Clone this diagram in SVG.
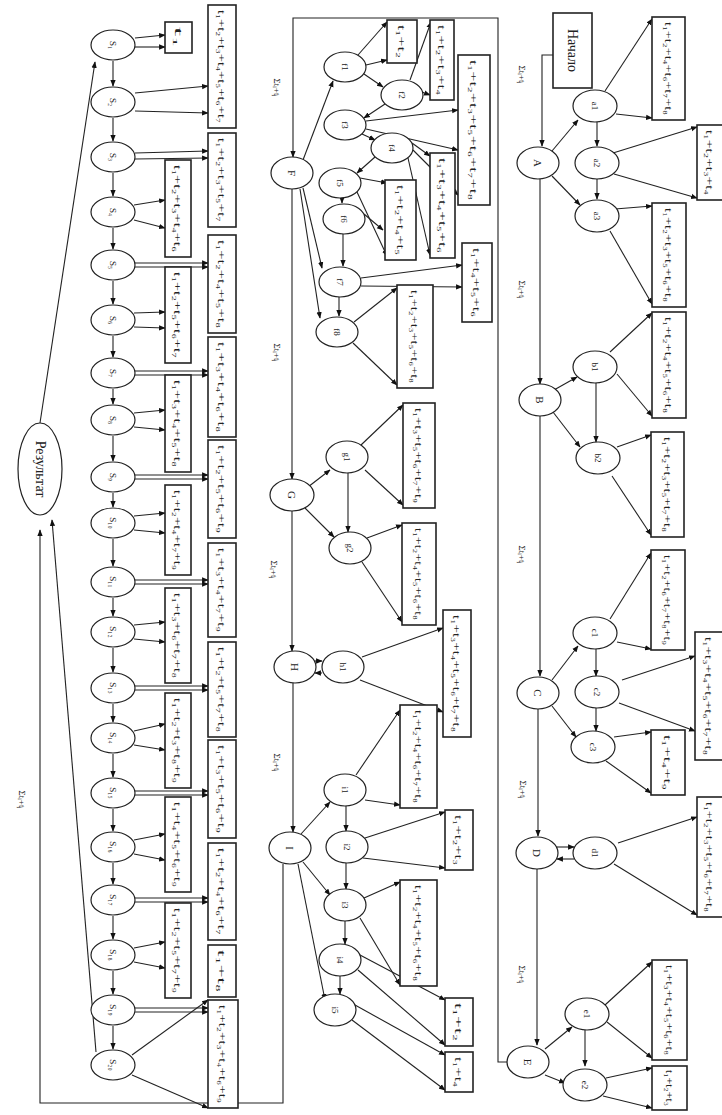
<svg xmlns="http://www.w3.org/2000/svg" width="722" height="1115" viewBox="0 0 722 1115">
<defs>
<marker id="ah" viewBox="0 0 10 10" refX="9" refY="5" markerWidth="6" markerHeight="6" orient="auto-start-reverse"><path d="M0,1 L10,5 L0,9 z" fill="#111"/></marker>
<style>
.nd{fill:#fff;stroke:#222;stroke-width:1.2}
.bx{fill:#fff;stroke:#222;stroke-width:1.6}
.e{fill:none;stroke:#222;stroke-width:1.1;marker-end:url(#ah)}
.t{font-family:"Liberation Serif",serif;font-size:11px;fill:#222;text-anchor:middle;dominant-baseline:central}
.tb{font-size:14px}
.ts{font-size:9px}
</style>
</defs>
<rect width="722" height="1115" fill="#fff"/>
<g id="connectors">
<path class="e" d="M553,55 H542 V146"/>
<path class="e" d="M540,179 V384"/>
<path class="e" d="M540,416 V676"/>
<path class="e" d="M538,709 V836"/>
<path class="e" d="M537,869 V1045"/>
<path class="e" d="M552,151 L578,120"/>
<path class="e" d="M597,122 V146"/>
<path class="e" d="M597,179 V199"/>
<path class="e" d="M552,176 L580,205"/>
<path class="e" d="M605,91 L652,19"/>
<path class="e" d="M616,114 L652,118"/>
<path class="e" d="M613,153 L697,127"/>
<path class="e" d="M614,174 L697,198"/>
<path class="e" d="M615,209 L652,206"/>
<path class="e" d="M610,231 L652,304"/>
<path class="e" d="M554,390 L577,377"/>
<path class="e" d="M596,383 V442"/>
<path class="e" d="M553,412 L580,447"/>
<path class="e" d="M610,352 L652,313"/>
<path class="e" d="M617,374 L652,416"/>
<path class="e" d="M617,447 L651,435"/>
<path class="e" d="M612,476 L651,535"/>
<path class="e" d="M610,619 L651,553"/>
<path class="e" d="M617,642 L651,649"/>
<path class="e" d="M552,680 L578,646"/>
<path class="e" d="M596,649 V676"/>
<path class="e" d="M596,708 V731"/>
<path class="e" d="M552,706 L576,737"/>
<path class="e" d="M622,680 L695,656"/>
<path class="e" d="M619,703 L695,731"/>
<path class="e" d="M614,737 L651,732"/>
<path class="e" d="M606,761 L651,793"/>
<path class="e" d="M557,847 L574,847"/>
<path class="e" d="M574,859 L557,859"/>
<path class="e" d="M618,843 L697,817"/>
<path class="e" d="M614,864 L697,915"/>
<path class="e" d="M545,1049 L572,1027"/>
<path class="e" d="M585,1030 V1066"/>
<path class="e" d="M545,1075 L565,1083"/>
<path class="e" d="M605,1005 L652,962"/>
<path class="e" d="M607,1022 L652,1058"/>
<path class="e" d="M606,1078 L652,1068"/>
<path class="e" d="M603,1096 L652,1108"/>
<path class="e" d="M508,1062 H498 V18 H293 V157"/>
<path class="e" d="M292,189 V479"/>
<path class="e" d="M292,511 V651"/>
<path class="e" d="M293,683 V832"/>
<path class="e" d="M303,160 L333,81"/>
<path class="e" d="M358,55 L387,22"/>
<path class="e" d="M366,65 L387,60"/>
<path class="e" d="M364,74 L383,87"/>
<path class="e" d="M410,80 L431,22"/>
<path class="e" d="M422,92 L430,95"/>
<path class="e" d="M385,104 L364,118"/>
<path class="e" d="M366,121 L458,110"/>
<path class="e" d="M366,129 L458,150"/>
<path class="e" d="M362,134 L375,140"/>
<path class="e" d="M412,143 L430,156"/>
<path class="e" d="M408,158 L430,255"/>
<path class="e" d="M413,150 L458,195"/>
<path class="e" d="M375,157 L357,173"/>
<path class="e" d="M360,178 L387,183"/>
<path class="e" d="M357,192 L387,256"/>
<path class="e" d="M342,198 V203"/>
<path class="e" d="M364,214 L383,230"/>
<path class="e" d="M343,234 V266"/>
<path class="e" d="M339,297 V316"/>
<path class="e" d="M361,278 L462,265"/>
<path class="e" d="M361,286 L462,287"/>
<path class="e" d="M354,322 L397,288"/>
<path class="e" d="M353,343 L397,385"/>
<path class="e" d="M303,188 L322,268"/>
<path class="e" d="M300,189 L320,318"/>
<path class="e" d="M308,487 L330,470"/>
<path class="e" d="M348,473 V532"/>
<path class="e" d="M305,508 L334,537"/>
<path class="e" d="M361,445 L403,405"/>
<path class="e" d="M365,470 L403,505"/>
<path class="e" d="M367,538 L402,525"/>
<path class="e" d="M362,562 L402,622"/>
<path class="e" d="M315,661 L322,661"/>
<path class="e" d="M322,673 L315,673"/>
<path class="e" d="M362,657 L443,628"/>
<path class="e" d="M360,680 L443,712"/>
<path class="e" d="M301,834 L330,802"/>
<path class="e" d="M346,806 V831"/>
<path class="e" d="M356,775 L400,710"/>
<path class="e" d="M365,800 L400,805"/>
<path class="e" d="M365,838 L445,812"/>
<path class="e" d="M363,858 L445,868"/>
<path class="e" d="M303,862 L330,895"/>
<path class="e" d="M346,863 V889"/>
<path class="e" d="M364,898 L400,882"/>
<path class="e" d="M360,918 L400,985"/>
<path class="e" d="M345,921 V944"/>
<path class="e" d="M360,955 L445,1000"/>
<path class="e" d="M358,970 L445,1045"/>
<path class="e" d="M340,976 V994"/>
<path class="e" d="M355,1005 L445,1055"/>
<path class="e" d="M352,1020 L445,1090"/>
<path class="e" d="M298,864 L325,1000"/>
<path class="e" d="M283,864 V1103 H40 V530"/>
<path class="e" d="M96,1052 L52,520"/>
<path class="e" d="M40,423 L95,62"/>
<path class="e" d="M113,61 V86"/><path class="e" d="M113,118 V141"/><path class="e" d="M113,173 V196"/><path class="e" d="M113,228 V249"/><path class="e" d="M113,281 V304"/><path class="e" d="M113,336 V357"/><path class="e" d="M113,389 V404"/><path class="e" d="M113,436 V461"/><path class="e" d="M113,493 V507"/><path class="e" d="M113,539 V566"/><path class="e" d="M113,598 V616"/><path class="e" d="M113,648 V672"/><path class="e" d="M113,704 V722"/><path class="e" d="M113,754 V777"/><path class="e" d="M113,809 V831"/><path class="e" d="M113,863 V884"/><path class="e" d="M113,916 V939"/><path class="e" d="M113,971 V994"/><path class="e" d="M113,1026 V1049"/>
<path class="e" d="M135,38 L165,35"/><path class="e" d="M135,47 L165,47"/>
<path class="e" d="M135,93 L208,86"/><path class="e" d="M135,111 L208,113"/>
<path class="e" d="M135,153 L208,151"/><path class="e" d="M135,159 L208,158"/>
<path class="e" d="M134,205 L165,200"/><path class="e" d="M134,220 L165,228"/>
<path class="e" d="M135,263 L208,263"/><path class="e" d="M135,267 L208,267"/>
<path class="e" d="M134,313 L165,312"/><path class="e" d="M134,327 L165,328"/>
<path class="e" d="M135,371 L208,371"/><path class="e" d="M135,375 L208,375"/>
<path class="e" d="M134,413 L165,410"/><path class="e" d="M134,427 L165,430"/>
<path class="e" d="M135,475 L208,475"/><path class="e" d="M135,479 L208,479"/>
<path class="e" d="M134,516 L165,513"/><path class="e" d="M134,530 L165,533"/>
<path class="e" d="M135,580 L208,580"/><path class="e" d="M135,584 L208,584"/>
<path class="e" d="M134,625 L165,622"/><path class="e" d="M134,639 L165,642"/>
<path class="e" d="M135,686 L208,686"/><path class="e" d="M135,690 L208,690"/>
<path class="e" d="M134,731 L165,724"/><path class="e" d="M134,745 L165,750"/>
<path class="e" d="M135,791 L208,791"/><path class="e" d="M135,795 L208,795"/>
<path class="e" d="M134,840 L165,834"/><path class="e" d="M134,854 L165,860"/>
<path class="e" d="M135,898 L208,898"/><path class="e" d="M135,902 L208,902"/>
<path class="e" d="M134,948 L165,942"/><path class="e" d="M134,962 L165,968"/>
<path class="e" d="M135,1008 L208,1008"/><path class="e" d="M135,1012 L208,1012"/>
<path class="e" d="M132,1055 L208,1000"/><path class="e" d="M132,1075 L208,1108"/>
</g>
<g id="labels">
<text class="t ts" transform="translate(522,75) rotate(90)">Σtᵢ+tⱼ</text>
<text class="t ts" transform="translate(522,290) rotate(90)">Σtᵢ+tⱼ</text>
<text class="t ts" transform="translate(522,555) rotate(90)">Σtᵢ+tⱼ</text>
<text class="t ts" transform="translate(523,790) rotate(90)">Σtᵢ+tⱼ</text>
<text class="t ts" transform="translate(522,975) rotate(90)">Σtᵢ+tⱼ</text>
<text class="t ts" transform="translate(277,88) rotate(90)">Σtᵢ+tⱼ</text>
<text class="t ts" transform="translate(277,353) rotate(90)">Σtᵢ+tⱼ</text>
<text class="t ts" transform="translate(274,570) rotate(90)">Σtᵢ+tⱼ</text>
<text class="t ts" transform="translate(277,763) rotate(90)">Σtᵢ+tⱼ</text>
<text class="t ts" transform="translate(22,800) rotate(90)">Σtᵢ+tⱼ</text>
</g>
<g id="n-start"><rect class="bx" x="553" y="13" width="39" height="75"/><text class="t tb" transform="translate(572.5,50.5) rotate(90)">Начало</text></g>
<g id="n-A"><ellipse class="nd" cx="538" cy="163" rx="21" ry="16"/><text class="t" transform="translate(538,163) rotate(90)">A</text></g>
<g id="n-B"><ellipse class="nd" cx="540" cy="400" rx="21" ry="16"/><text class="t" transform="translate(540,400) rotate(90)">B</text></g>
<g id="n-C"><ellipse class="nd" cx="538" cy="693" rx="21" ry="16"/><text class="t" transform="translate(538,693) rotate(90)">C</text></g>
<g id="n-D"><ellipse class="nd" cx="537" cy="853" rx="21" ry="16"/><text class="t" transform="translate(537,853) rotate(90)">D</text></g>
<g id="n-E"><ellipse class="nd" cx="528" cy="1062" rx="21" ry="16"/><text class="t" transform="translate(528,1062) rotate(90)">E</text></g>
<g id="n-F"><ellipse class="nd" cx="292" cy="173" rx="21" ry="16"/><text class="t" transform="translate(292,173) rotate(90)">F</text></g>
<g id="n-G"><ellipse class="nd" cx="292" cy="495" rx="22" ry="16"/><text class="t" transform="translate(292,495) rotate(90)">G</text></g>
<g id="n-H"><ellipse class="nd" cx="295" cy="667" rx="21" ry="16"/><text class="t" transform="translate(295,667) rotate(90)">H</text></g>
<g id="n-I"><ellipse class="nd" cx="290" cy="848" rx="21" ry="16"/><text class="t" transform="translate(290,848) rotate(90)">I</text></g>
<g id="n-res"><ellipse class="nd" cx="40" cy="469" rx="22" ry="46"/><text class="t tb" transform="translate(40,469) rotate(90)">Результат</text></g>
<g id="n-a1"><ellipse class="nd" cx="595" cy="106" rx="22" ry="16"/><text class="t ts" transform="translate(595,106) rotate(90)">a1</text></g>
<g id="n-a2"><ellipse class="nd" cx="597" cy="163" rx="22" ry="16"/><text class="t ts" transform="translate(597,163) rotate(90)">a2</text></g>
<g id="n-a3"><ellipse class="nd" cx="597" cy="216" rx="22" ry="16"/><text class="t ts" transform="translate(597,216) rotate(90)">a3</text></g>
<g id="n-b1"><ellipse class="nd" cx="595" cy="367" rx="22" ry="16"/><text class="t ts" transform="translate(595,367) rotate(90)">b1</text></g>
<g id="n-b2"><ellipse class="nd" cx="598" cy="458" rx="22" ry="16"/><text class="t ts" transform="translate(598,458) rotate(90)">b2</text></g>
<g id="n-c1"><ellipse class="nd" cx="595" cy="633" rx="22" ry="16"/><text class="t ts" transform="translate(595,633) rotate(90)">c1</text></g>
<g id="n-c2"><ellipse class="nd" cx="597" cy="692" rx="22" ry="16"/><text class="t ts" transform="translate(597,692) rotate(90)">c2</text></g>
<g id="n-c3"><ellipse class="nd" cx="593" cy="747" rx="22" ry="16"/><text class="t ts" transform="translate(593,747) rotate(90)">c3</text></g>
<g id="n-d1"><ellipse class="nd" cx="595" cy="853" rx="22" ry="16"/><text class="t ts" transform="translate(595,853) rotate(90)">d1</text></g>
<g id="n-e1"><ellipse class="nd" cx="587" cy="1014" rx="22" ry="16"/><text class="t ts" transform="translate(587,1014) rotate(90)">e1</text></g>
<g id="n-e2"><ellipse class="nd" cx="585" cy="1085" rx="22" ry="16"/><text class="t ts" transform="translate(585,1085) rotate(90)">e2</text></g>
<g id="b-r1"><rect class="bx" x="652" y="17" width="33" height="103"/><text class="t" textLength="93" lengthAdjust="spacingAndGlyphs" transform="translate(668.5,68.5) rotate(90)">t₁+t₂+t₄+t₆+t₇+t₈</text></g>
<g id="b-r2"><rect class="bx" x="697" y="125" width="28" height="75"/><text class="t" textLength="65" lengthAdjust="spacingAndGlyphs" transform="translate(710,162.5) rotate(90)">t₁+t₂+t₃+t₄</text></g>
<g id="b-r3"><rect class="bx" x="652" y="203" width="34" height="104"/><text class="t" textLength="94" lengthAdjust="spacingAndGlyphs" transform="translate(669,255) rotate(90)">t₁+t₂+t₃+t₅+t₆+t₈</text></g>
<g id="b-r4"><rect class="bx" x="652" y="312" width="34" height="106"/><text class="t" textLength="96" lengthAdjust="spacingAndGlyphs" transform="translate(669,365) rotate(90)">t₁+t₂+t₄+t₅+t₆+t₈</text></g>
<g id="b-r5"><rect class="bx" x="651" y="432" width="33" height="105"/><text class="t" textLength="95" lengthAdjust="spacingAndGlyphs" transform="translate(667.5,484.5) rotate(90)">t₁+t₂+t₃+t₅+t₇+t₈</text></g>
<g id="b-r6"><rect class="bx" x="651" y="550" width="34" height="100"/><text class="t" textLength="90" lengthAdjust="spacingAndGlyphs" transform="translate(668,600) rotate(90)">t₁+t₂+t₆+t₇+t₈+t₉</text></g>
<g id="b-r7"><rect class="bx" x="695" y="632" width="30" height="128"/><text class="t" textLength="118" lengthAdjust="spacingAndGlyphs" transform="translate(709,696) rotate(90)">t₁+t₃+t₄+t₅+t₆+t₇+t₈</text></g>
<g id="b-r8"><rect class="bx" x="651" y="730" width="34" height="65"/><text class="t" textLength="55" lengthAdjust="spacingAndGlyphs" transform="translate(668,762.5) rotate(90)">t₁+t₄+t₉</text></g>
<g id="b-r9"><rect class="bx" x="697" y="797" width="28" height="120"/><text class="t" textLength="110" lengthAdjust="spacingAndGlyphs" transform="translate(710,857) rotate(90)">t₁+t₂+t₃+t₅+t₆+t₇+t₈</text></g>
<g id="b-r10"><rect class="bx" x="652" y="960" width="35" height="100"/><text class="t" textLength="90" lengthAdjust="spacingAndGlyphs" transform="translate(669.5,1010) rotate(90)">t₁+t₃+t₄+t₅+t₆+t₈</text></g>
<g id="b-r11"><rect class="bx" x="652" y="1066" width="35" height="44"/><text class="t" textLength="36" lengthAdjust="spacingAndGlyphs" transform="translate(669.5,1088) rotate(90)">t₁+t₂+t₃</text></g>
<g id="n-f1"><ellipse class="nd" cx="345" cy="67" rx="21" ry="15"/><text class="t ts" transform="translate(345,67) rotate(90)">f1</text></g>
<g id="n-f2"><ellipse class="nd" cx="402" cy="95" rx="21" ry="15"/><text class="t ts" transform="translate(402,95) rotate(90)">f2</text></g>
<g id="n-f3"><ellipse class="nd" cx="345" cy="125" rx="21" ry="15"/><text class="t ts" transform="translate(345,125) rotate(90)">f3</text></g>
<g id="n-f4"><ellipse class="nd" cx="392" cy="148" rx="21" ry="15"/><text class="t ts" transform="translate(392,148) rotate(90)">f4</text></g>
<g id="n-f5"><ellipse class="nd" cx="340" cy="183" rx="21" ry="15"/><text class="t ts" transform="translate(340,183) rotate(90)">f5</text></g>
<g id="n-f6"><ellipse class="nd" cx="344" cy="219" rx="21" ry="15"/><text class="t ts" transform="translate(344,219) rotate(90)">f6</text></g>
<g id="n-f7"><ellipse class="nd" cx="340" cy="282" rx="21" ry="15"/><text class="t ts" transform="translate(340,282) rotate(90)">f7</text></g>
<g id="n-f8"><ellipse class="nd" cx="337" cy="332" rx="21" ry="15"/><text class="t ts" transform="translate(337,332) rotate(90)">f8</text></g>
<g id="n-g1"><ellipse class="nd" cx="347" cy="457" rx="21" ry="16"/><text class="t ts" transform="translate(347,457) rotate(90)">g1</text></g>
<g id="n-g2"><ellipse class="nd" cx="350" cy="548" rx="21" ry="16"/><text class="t ts" transform="translate(350,548) rotate(90)">g2</text></g>
<g id="n-h1"><ellipse class="nd" cx="343" cy="667" rx="21" ry="16"/><text class="t ts" transform="translate(343,667) rotate(90)">h1</text></g>
<g id="n-i1"><ellipse class="nd" cx="345" cy="790" rx="21" ry="16"/><text class="t ts" transform="translate(345,790) rotate(90)">i1</text></g>
<g id="n-i2"><ellipse class="nd" cx="347" cy="847" rx="21" ry="16"/><text class="t ts" transform="translate(347,847) rotate(90)">i2</text></g>
<g id="n-i3"><ellipse class="nd" cx="345" cy="905" rx="21" ry="16"/><text class="t ts" transform="translate(345,905) rotate(90)">i3</text></g>
<g id="n-i4"><ellipse class="nd" cx="340" cy="960" rx="21" ry="16"/><text class="t ts" transform="translate(340,960) rotate(90)">i4</text></g>
<g id="n-i5"><ellipse class="nd" cx="335" cy="1010" rx="21" ry="16"/><text class="t ts" transform="translate(335,1010) rotate(90)">i5</text></g>
<g id="b-f1"><rect class="bx" x="387" y="20" width="30" height="43"/><text class="t" textLength="33" lengthAdjust="spacingAndGlyphs" transform="translate(402,41.5) rotate(90)">t₁+t₂</text></g>
<g id="b-f2"><rect class="bx" x="430" y="20" width="24" height="80"/><text class="t" textLength="70" lengthAdjust="spacingAndGlyphs" transform="translate(442,60) rotate(90)">t₁+t₂+t₃+t₄</text></g>
<g id="b-f3"><rect class="bx" x="458" y="55" width="32" height="150"/><text class="t" textLength="140" lengthAdjust="spacingAndGlyphs" transform="translate(474,130) rotate(90)">t₁+t₂+t₃+t₅+t₆+t₇+t₈</text></g>
<g id="b-f5"><rect class="bx" x="430" y="153" width="25" height="105"/><text class="t" textLength="95" lengthAdjust="spacingAndGlyphs" transform="translate(442.5,205.5) rotate(90)">t₁+t₃+t₄+t₅+t₆</text></g>
<g id="b-f6"><rect class="bx" x="385" y="180" width="31" height="80"/><text class="t" textLength="70" lengthAdjust="spacingAndGlyphs" transform="translate(400.5,220) rotate(90)">t₁+t₂+t₄+t₅</text></g>
<g id="b-f7"><rect class="bx" x="462" y="243" width="30" height="79"/><text class="t" textLength="69" lengthAdjust="spacingAndGlyphs" transform="translate(477,282.5) rotate(90)">t₁+t₄+t₅+t₆</text></g>
<g id="b-f8"><rect class="bx" x="397" y="285" width="36" height="103"/><text class="t" textLength="93" lengthAdjust="spacingAndGlyphs" transform="translate(415,336.5) rotate(90)">t₁+t₂+t₃+t₅+t₆+t₈</text></g>
<g id="b-g1"><rect class="bx" x="403" y="403" width="32" height="105"/><text class="t" textLength="95" lengthAdjust="spacingAndGlyphs" transform="translate(419,455.5) rotate(90)">t₁+t₃+t₅+t₆+t₇+t₉</text></g>
<g id="b-g2"><rect class="bx" x="402" y="523" width="34" height="102"/><text class="t" textLength="92" lengthAdjust="spacingAndGlyphs" transform="translate(419,574) rotate(90)">t₁+t₂+t₄+t₅+t₆+t₈</text></g>
<g id="b-h"><rect class="bx" x="443" y="610" width="28" height="127"/><text class="t" textLength="117" lengthAdjust="spacingAndGlyphs" transform="translate(457,673.5) rotate(90)">t₁+t₃+t₄+t₅+t₆+t₇+t₈</text></g>
<g id="b-i1"><rect class="bx" x="400" y="705" width="37" height="103"/><text class="t" textLength="93" lengthAdjust="spacingAndGlyphs" transform="translate(418.5,756.5) rotate(90)">t₁+t₂+t₄+t₆+t₇+t₈</text></g>
<g id="b-i2"><rect class="bx" x="445" y="810" width="28" height="60"/><text class="t" textLength="50" lengthAdjust="spacingAndGlyphs" transform="translate(459,840) rotate(90)">t₁+t₂+t₃</text></g>
<g id="b-i3"><rect class="bx" x="400" y="880" width="37" height="106"/><text class="t" textLength="96" lengthAdjust="spacingAndGlyphs" transform="translate(418.5,933) rotate(90)">t₁+t₂+t₄+t₅+t₆+t₈</text></g>
<g id="b-i4"><rect class="bx" x="445" y="998" width="28" height="48"/><text class="t" textLength="38" lengthAdjust="spacingAndGlyphs" transform="translate(459,1022) rotate(90)">t₁+t₂</text></g>
<g id="b-i5"><rect class="bx" x="445" y="1052" width="28" height="40"/><text class="t" textLength="30" lengthAdjust="spacingAndGlyphs" transform="translate(459,1072) rotate(90)">t₁+t₄</text></g>
<g id="n-s1"><ellipse class="nd" cx="113" cy="45" rx="22" ry="15"/><text class="t ts" transform="translate(113,45) rotate(90)">S₁</text></g>
<g id="n-s2"><ellipse class="nd" cx="113" cy="102" rx="22" ry="15"/><text class="t ts" transform="translate(113,102) rotate(90)">S₂</text></g>
<g id="n-s3"><ellipse class="nd" cx="113" cy="157" rx="22" ry="15"/><text class="t ts" transform="translate(113,157) rotate(90)">S₃</text></g>
<g id="n-s4"><ellipse class="nd" cx="113" cy="212" rx="22" ry="15"/><text class="t ts" transform="translate(113,212) rotate(90)">S₄</text></g>
<g id="n-s5"><ellipse class="nd" cx="113" cy="265" rx="22" ry="15"/><text class="t ts" transform="translate(113,265) rotate(90)">S₅</text></g>
<g id="n-s6"><ellipse class="nd" cx="113" cy="320" rx="22" ry="15"/><text class="t ts" transform="translate(113,320) rotate(90)">S₆</text></g>
<g id="n-s7"><ellipse class="nd" cx="113" cy="373" rx="22" ry="15"/><text class="t ts" transform="translate(113,373) rotate(90)">S₇</text></g>
<g id="n-s8"><ellipse class="nd" cx="113" cy="420" rx="22" ry="15"/><text class="t ts" transform="translate(113,420) rotate(90)">S₈</text></g>
<g id="n-s9"><ellipse class="nd" cx="113" cy="477" rx="22" ry="15"/><text class="t ts" transform="translate(113,477) rotate(90)">S₉</text></g>
<g id="n-s10"><ellipse class="nd" cx="113" cy="523" rx="22" ry="15"/><text class="t ts" transform="translate(113,523) rotate(90)">S₁₀</text></g>
<g id="n-s11"><ellipse class="nd" cx="113" cy="582" rx="22" ry="15"/><text class="t ts" transform="translate(113,582) rotate(90)">S₁₁</text></g>
<g id="n-s12"><ellipse class="nd" cx="113" cy="632" rx="22" ry="15"/><text class="t ts" transform="translate(113,632) rotate(90)">S₁₂</text></g>
<g id="n-s13"><ellipse class="nd" cx="113" cy="688" rx="22" ry="15"/><text class="t ts" transform="translate(113,688) rotate(90)">S₁₃</text></g>
<g id="n-s14"><ellipse class="nd" cx="113" cy="738" rx="22" ry="15"/><text class="t ts" transform="translate(113,738) rotate(90)">S₁₄</text></g>
<g id="n-s15"><ellipse class="nd" cx="113" cy="793" rx="22" ry="15"/><text class="t ts" transform="translate(113,793) rotate(90)">S₁₅</text></g>
<g id="n-s16"><ellipse class="nd" cx="113" cy="847" rx="22" ry="15"/><text class="t ts" transform="translate(113,847) rotate(90)">S₁₆</text></g>
<g id="n-s17"><ellipse class="nd" cx="113" cy="900" rx="22" ry="15"/><text class="t ts" transform="translate(113,900) rotate(90)">S₁₇</text></g>
<g id="n-s18"><ellipse class="nd" cx="113" cy="955" rx="22" ry="15"/><text class="t ts" transform="translate(113,955) rotate(90)">S₁₈</text></g>
<g id="n-s19"><ellipse class="nd" cx="113" cy="1010" rx="22" ry="15"/><text class="t ts" transform="translate(113,1010) rotate(90)">S₁₉</text></g>
<g id="n-s20"><ellipse class="nd" cx="113" cy="1065" rx="22" ry="15"/><text class="t ts" transform="translate(113,1065) rotate(90)">S₂₀</text></g>
<g id="b-l0"><rect class="bx" x="165" y="22" width="27" height="31"/><text class="t" textLength="21" lengthAdjust="spacingAndGlyphs" transform="translate(178.5,37.5) rotate(90)">t₁</text></g>
<g id="b-o0"><rect class="bx" x="208" y="5" width="28" height="123"/><text class="t" textLength="113" lengthAdjust="spacingAndGlyphs" transform="translate(222,66.5) rotate(90)">t₁+t₂+t₃+t₄+t₅+t₆+t₇</text></g>
<g id="b-o1"><rect class="bx" x="208" y="133" width="28" height="94"/><text class="t" textLength="84" lengthAdjust="spacingAndGlyphs" transform="translate(222,180) rotate(90)">t₁+t₂+t₃+t₅+t₇</text></g>
<g id="b-o2"><rect class="bx" x="208" y="235" width="28" height="98"/><text class="t" textLength="88" lengthAdjust="spacingAndGlyphs" transform="translate(222,284) rotate(90)">t₁+t₂+t₄+t₅+t₈</text></g>
<g id="b-o3"><rect class="bx" x="208" y="337" width="28" height="100"/><text class="t" textLength="90" lengthAdjust="spacingAndGlyphs" transform="translate(222,387) rotate(90)">t₁+t₃+t₄+t₆+t₈</text></g>
<g id="b-o4"><rect class="bx" x="208" y="440" width="28" height="98"/><text class="t" textLength="88" lengthAdjust="spacingAndGlyphs" transform="translate(222,489) rotate(90)">t₁+t₂+t₅+t₆+t₉</text></g>
<g id="b-o5"><rect class="bx" x="208" y="543" width="28" height="94"/><text class="t" textLength="84" lengthAdjust="spacingAndGlyphs" transform="translate(222,590) rotate(90)">t₁+t₃+t₄+t₇+t₉</text></g>
<g id="b-o6"><rect class="bx" x="208" y="642" width="28" height="95"/><text class="t" textLength="85" lengthAdjust="spacingAndGlyphs" transform="translate(222,689.5) rotate(90)">t₁+t₂+t₅+t₇+t₈</text></g>
<g id="b-o7"><rect class="bx" x="208" y="740" width="28" height="98"/><text class="t" textLength="88" lengthAdjust="spacingAndGlyphs" transform="translate(222,789) rotate(90)">t₁+t₃+t₅+t₆+t₉</text></g>
<g id="b-o8"><rect class="bx" x="208" y="843" width="28" height="97"/><text class="t" textLength="87" lengthAdjust="spacingAndGlyphs" transform="translate(222,891.5) rotate(90)">t₁+t₂+t₄+t₆+t₇</text></g>
<g id="b-o9"><rect class="bx" x="208" y="945" width="28" height="52"/><text class="t" textLength="42" lengthAdjust="spacingAndGlyphs" transform="translate(222,971) rotate(90)">t₁+t₈</text></g>
<g id="b-o10"><rect class="bx" x="208" y="1000" width="30" height="108"/><text class="t" textLength="98" lengthAdjust="spacingAndGlyphs" transform="translate(223,1054) rotate(90)">t₁+t₂+t₃+t₄+t₆+t₉</text></g>
<g id="b-l1"><rect class="bx" x="165" y="160" width="26" height="97"/><text class="t" textLength="87" lengthAdjust="spacingAndGlyphs" transform="translate(178,208.5) rotate(90)">t₁+t₂+t₃+t₄+t₆</text></g>
<g id="b-l2"><rect class="bx" x="165" y="267" width="26" height="96"/><text class="t" textLength="86" lengthAdjust="spacingAndGlyphs" transform="translate(178,315) rotate(90)">t₁+t₂+t₅+t₆+t₇</text></g>
<g id="b-l3"><rect class="bx" x="165" y="375" width="26" height="97"/><text class="t" textLength="87" lengthAdjust="spacingAndGlyphs" transform="translate(178,423.5) rotate(90)">t₁+t₃+t₄+t₅+t₈</text></g>
<g id="b-l4"><rect class="bx" x="165" y="485" width="26" height="90"/><text class="t" textLength="80" lengthAdjust="spacingAndGlyphs" transform="translate(178,530) rotate(90)">t₁+t₂+t₄+t₇+t₉</text></g>
<g id="b-l5"><rect class="bx" x="165" y="588" width="26" height="95"/><text class="t" textLength="85" lengthAdjust="spacingAndGlyphs" transform="translate(178,635.5) rotate(90)">t₁+t₃+t₆+t₇+t₈</text></g>
<g id="b-l6"><rect class="bx" x="165" y="693" width="26" height="95"/><text class="t" textLength="85" lengthAdjust="spacingAndGlyphs" transform="translate(178,740.5) rotate(90)">t₁+t₂+t₃+t₈+t₉</text></g>
<g id="b-l7"><rect class="bx" x="165" y="797" width="26" height="95"/><text class="t" textLength="85" lengthAdjust="spacingAndGlyphs" transform="translate(178,844.5) rotate(90)">t₁+t₄+t₅+t₆+t₉</text></g>
<g id="b-l8"><rect class="bx" x="165" y="903" width="26" height="95"/><text class="t" textLength="85" lengthAdjust="spacingAndGlyphs" transform="translate(178,950.5) rotate(90)">t₁+t₂+t₅+t₇+t₉</text></g>
</svg>
